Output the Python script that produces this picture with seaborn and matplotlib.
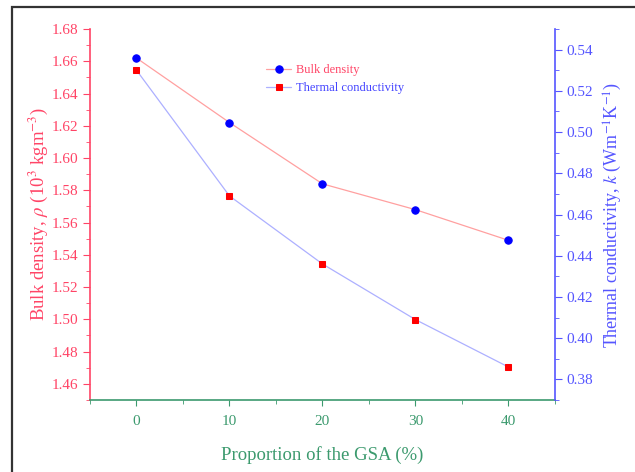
import matplotlib
matplotlib.use("Agg")
import matplotlib.pyplot as plt
import seaborn as sns
import pandas as pd
from matplotlib.patches import Rectangle
from matplotlib.ticker import MultipleLocator

# data
gsa = [0, 10, 20, 30, 40]
bulk_density = [1.662, 1.622, 1.584, 1.568, 1.549]
thermal_cond = [0.530, 0.469, 0.436, 0.409, 0.386]

red = "#ff4466"
blue = "#5555ff"
green = "#3c9a6e"

sns.set_style("white")
plt.rcParams["font.family"] = ["Liberation Serif", "DejaVu Serif"]
plt.rcParams["mathtext.fontset"] = "stix"

df = pd.DataFrame({"gsa": gsa, "rho": bulk_density, "k": thermal_cond})

fig = plt.figure(figsize=(6.35, 4.72), dpi=100)
ax = fig.add_axes([0.1417, 0.1525, 0.7323, 0.7861])
ax2 = ax.twinx()

sns.lineplot(data=df, x="gsa", y="rho", ax=ax, color="#ffa0a0", lw=0.9,
             marker="o", markersize=5.3, markerfacecolor="#0000ff",
             markeredgecolor="#0000ff", label="Bulk density", legend=False)
sns.lineplot(data=df, x="gsa", y="k", ax=ax2, color="#adb0ff", lw=0.9,
             marker="s", markersize=4.6, markerfacecolor="#ff0000",
             markeredgecolor="#ff0000", label="Thermal conductivity", legend=False)

ax.set_xlim(-5, 45)
ax.set_ylim(1.45, 1.68)
ax2.set_ylim(0.37, 0.55)

ax.xaxis.set_major_locator(MultipleLocator(10))
ax.xaxis.set_minor_locator(MultipleLocator(5))
ax.yaxis.set_major_locator(MultipleLocator(0.02))
ax.yaxis.set_minor_locator(MultipleLocator(0.01))
ax2.yaxis.set_major_locator(MultipleLocator(0.02))
ax2.yaxis.set_minor_locator(MultipleLocator(0.01))
ax.yaxis.set_major_formatter(lambda v, p: f"{v:.2f}")
ax2.yaxis.set_major_formatter(lambda v, p: f"{v:.2f}")

for a in (ax, ax2):
    a.spines["top"].set_visible(False)
    a.grid(False)
ax.spines["right"].set_visible(False)
ax2.spines["left"].set_visible(False)
ax2.spines["bottom"].set_visible(False)
ax.spines["left"].set_color(red)
ax2.spines["right"].set_color(blue)
ax.spines["bottom"].set_color(green)
for s in ("left", "bottom"):
    ax.spines[s].set_linewidth(1.2)
ax2.spines["right"].set_linewidth(1.2)

ax.tick_params(axis="y", which="both", direction="out", left=True, colors=red, labelsize=11)
ax.tick_params(axis="y", which="major", length=5)
ax.tick_params(axis="y", which="minor", length=3)
ax.tick_params(axis="x", which="both", direction="out", bottom=True, colors=green, labelsize=11, pad=7)
ax.tick_params(axis="x", which="major", length=4)
ax.tick_params(axis="x", which="minor", length=3)
ax2.tick_params(axis="y", which="both", direction="out", right=True, colors=blue, labelsize=11)
ax2.tick_params(axis="y", which="major", length=5)
ax2.tick_params(axis="y", which="minor", length=3)

ax.set_xlabel("Proportion of the GSA (%)", color=green, fontsize=13.5, labelpad=13)
ax.set_ylabel(r"Bulk density, $\rho$ (10$^3$ kgm$^{-3}$)", color=red, fontsize=13.5, labelpad=1)
ax2.set_ylabel(r"Thermal conductivity, $k$ (Wm$^{-1}$K$^{-1}$)", color=blue, fontsize=13, labelpad=6)

h1, l1 = ax.get_legend_handles_labels()
h2, l2 = ax2.get_legend_handles_labels()
leg = ax.legend(h1 + h2, l1 + l2, loc="upper left", bbox_to_anchor=(0.355, 0.935),
                frameon=False, fontsize=9, handlelength=2.0, handletextpad=0.35,
                labelspacing=0.45)
leg.get_texts()[0].set_color("#ff4466")
leg.get_texts()[1].set_color("#4444ff")

# outer frame around the figure
fig.patches.append(Rectangle((12 / 635, -0.2), 1.2, 1 - 7 / 472 + 0.2,
                             transform=fig.transFigure, fill=False,
                             edgecolor="#333333", lw=1.6, clip_on=False))

fig.savefig("out.png", dpi=100)
